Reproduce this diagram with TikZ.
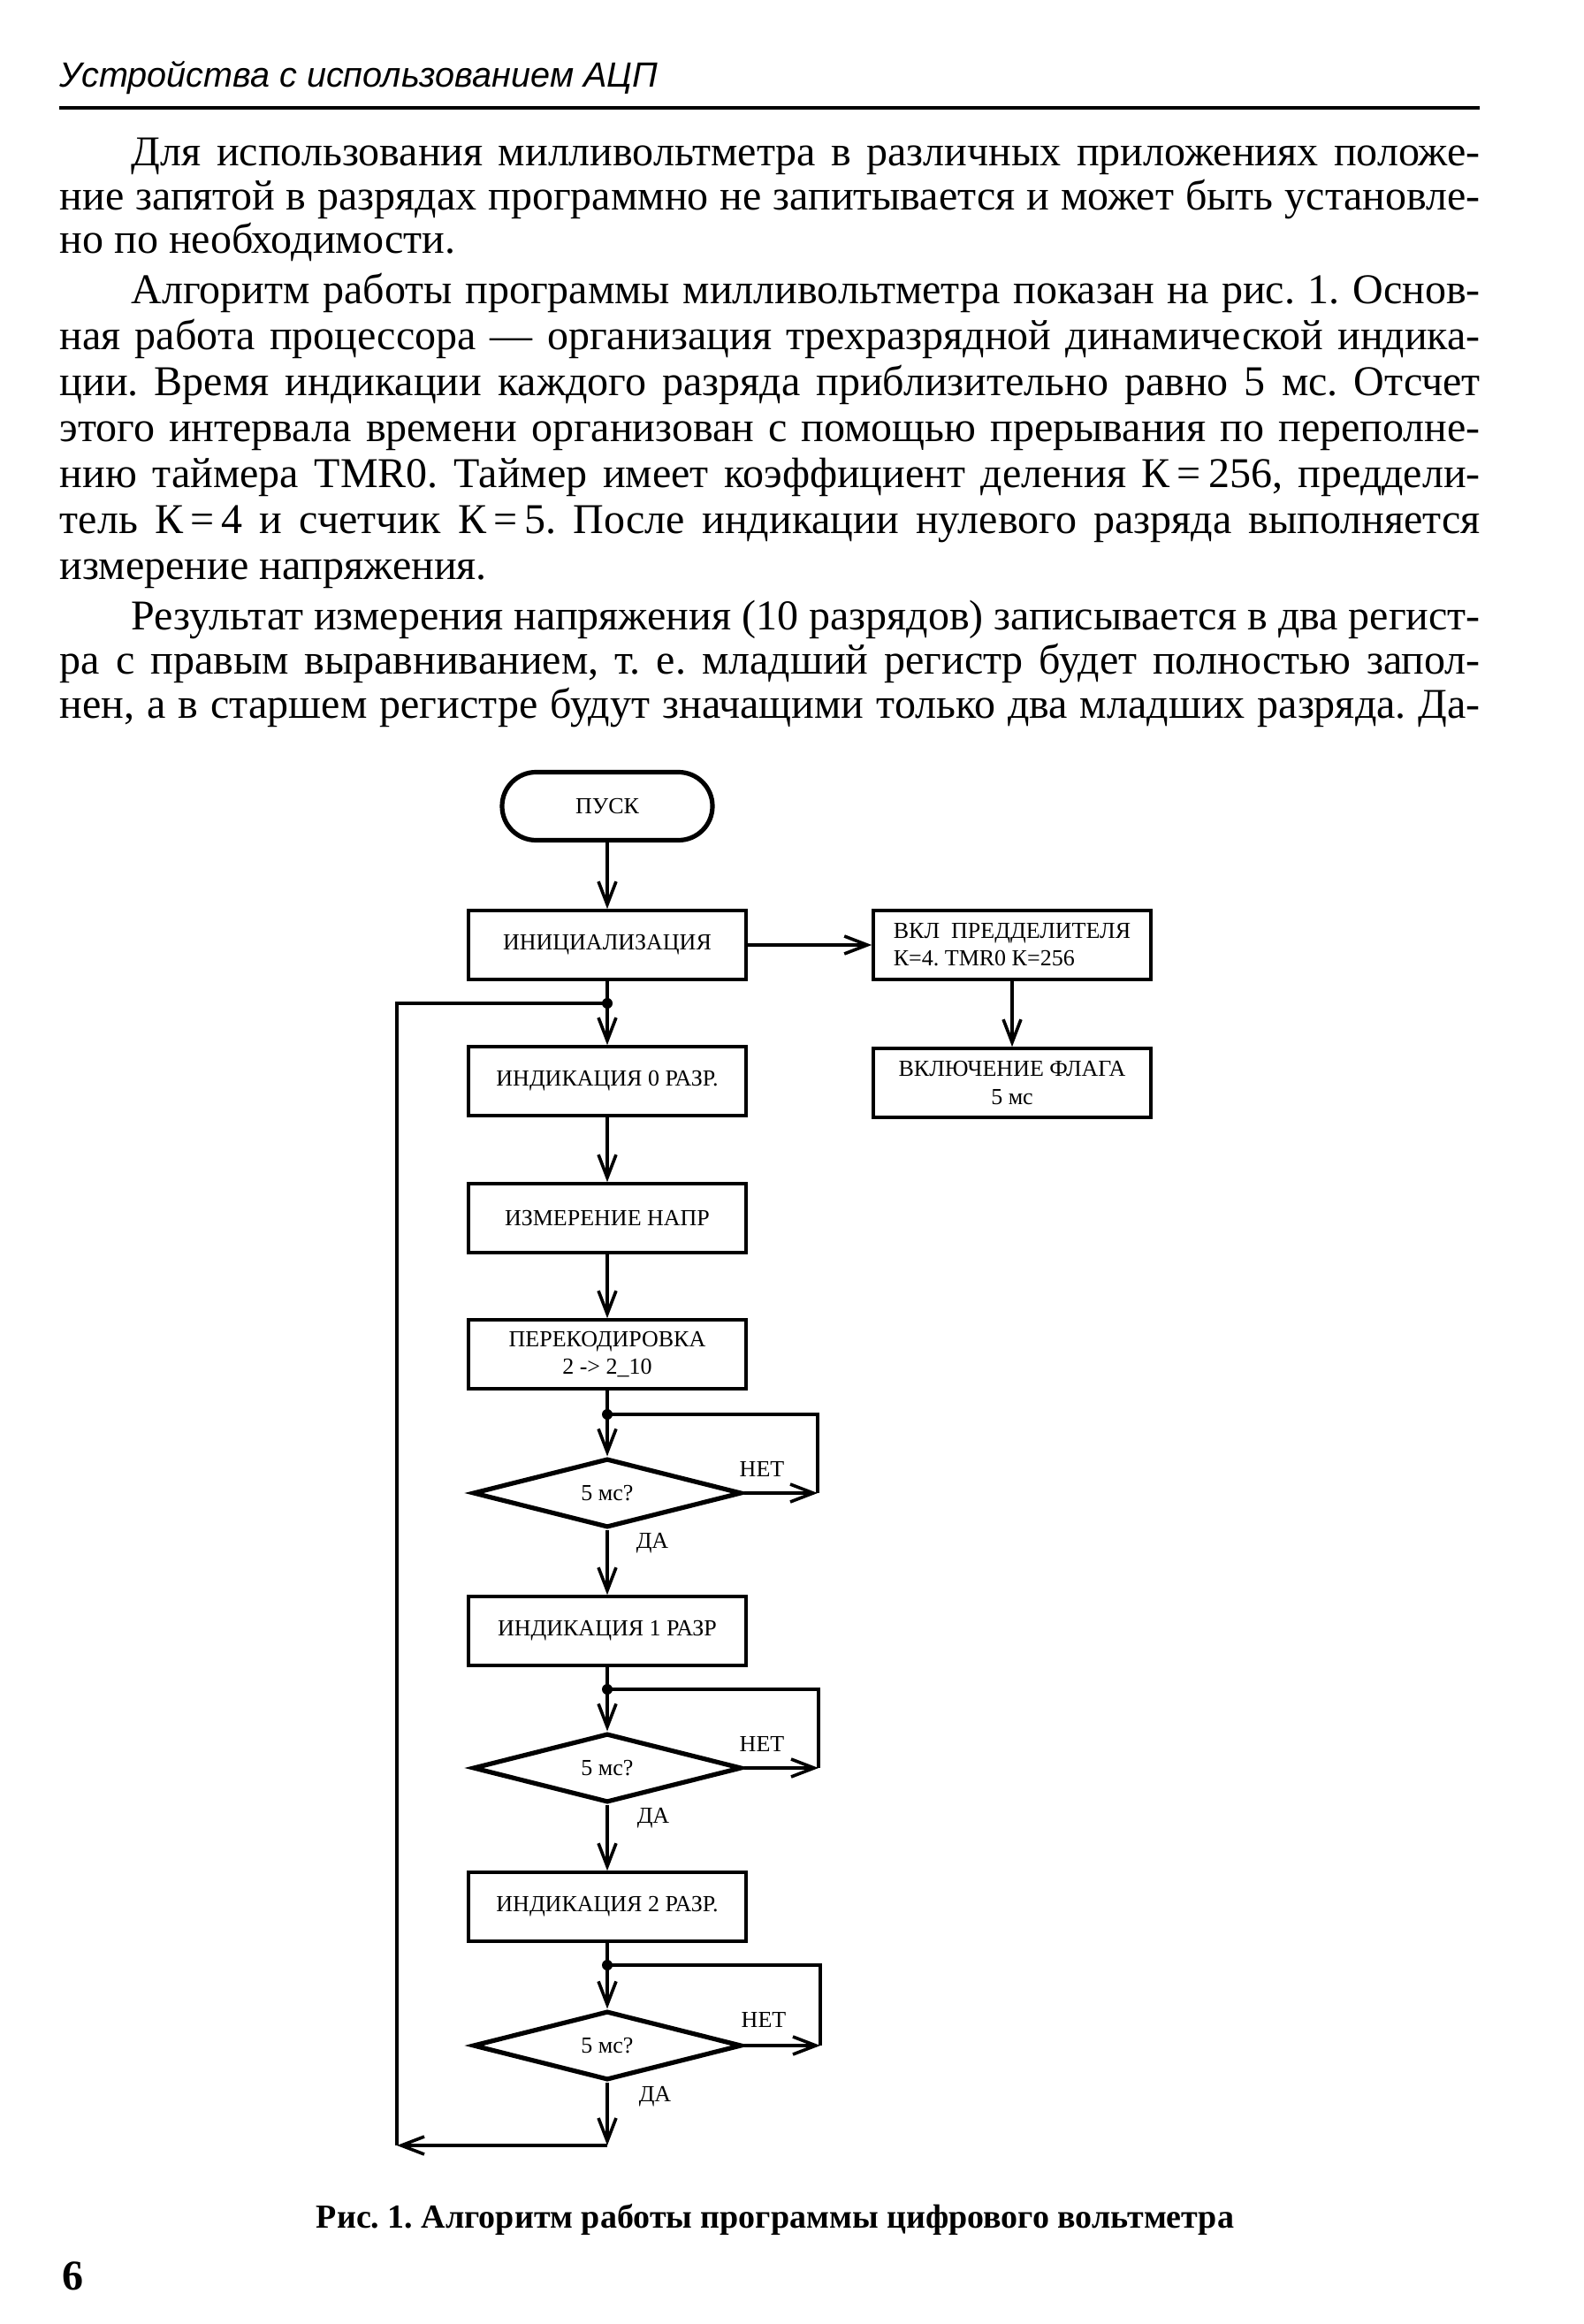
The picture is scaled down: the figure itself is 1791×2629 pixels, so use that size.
\documentclass[tikz,border=0pt]{standalone}
\usepackage{fontspec}
\setmainfont{Liberation Serif}
\newfontfamily\hdrfont{Liberation Sans}
\usetikzlibrary{arrows.meta,shapes.geometric}
\newcommand\fullline[1]{\makebox[401.75pt][s]{#1}}
\newcommand\indline[1]{\makebox[381.5pt][s]{#1}}
\frenchspacing
\begin{document}
\begin{tikzpicture}[x=0.25pt,y=-0.25pt,
  txt/.style={anchor=base west, inner sep=0pt, font=\fontsize{12}{14}\selectfont},
  fc/.style={font=\fontsize{6.5}{7.8}\selectfont},
  box/.style={fc, draw, line width=0.9pt, minimum width=78.5pt, minimum height=19.5pt, inner sep=1pt},
  dec/.style={fc, diamond, draw, line width=1.3pt, aspect=4, minimum width=76pt, minimum height=19.5pt, inner sep=0pt},
  term/.style={fc, draw, line width=1.3pt, rounded corners=9.6pt, minimum width=59.5pt, minimum height=19.25pt},
  lbl/.style={fc, inner sep=0pt},
  conn/.style={line width=0.9pt},
  arr/.style={conn, -{Straight Barb[length=6.5pt,width=5pt,line width=0.9pt]}},
  dot/.style={circle, fill, inner sep=0pt, minimum size=3pt}
]
\fill[white] (0,0) rectangle (1791,2629);
\useasboundingbox (0,0) rectangle (1791,2629);

% header
\node[anchor=base west, inner sep=0pt, font=\hdrfont\itshape\fontsize{9.9}{12}\selectfont] (hdr) at (67,99) {Устройства с использованием АЦП};
\coordinate (rl) at (67,122);
\coordinate (rr) at (1674,122);
\draw[line width=1pt] (rl) -- (rr);

% paragraph 1
\node[txt] (l1) at (148,188) {\indline{Для использования милливольтметра в различных приложениях положе-}};
\node[txt] (l2) at (67,238) {\fullline{ние запятой в разрядах программно не запитывается и может быть установле-}};
\node[txt] (l3) at (67,287) {но по необходимости.};
% paragraph 2
\node[txt] (l4) at (148,344) {\indline{Алгоритм работы программы милливольтметра показан на рис. 1. Основ-}};
\node[txt] (l5) at (67,396) {\fullline{ная работа процессора — организация трехразрядной динамической индика-}};
\node[txt] (l6) at (67,448) {\fullline{ции. Время индикации каждого разряда приблизительно равно 5 мс. Отсчет}};
\node[txt] (l7) at (67,500) {\fullline{этого интервала времени организован с помощью прерывания по переполне-}};
\node[txt] (l8) at (67,552) {\fullline{нию таймера TMR0. Таймер имеет коэффициент деления К\,=\,256, преддели-}};
\node[txt] (l9) at (67,604) {\fullline{тель К\,=\,4 и счетчик К\,=\,5. После индикации нулевого разряда выполняется}};
\node[txt] (l10) at (67,656) {измерение напряжения.};
% paragraph 3
\node[txt] (l11) at (148,713) {\indline{Результат измерения напряжения (10 разрядов) записывается в два регист-}};
\node[txt] (l12) at (67,763) {\fullline{ра с правым выравниванием, т. е. младший регистр будет полностью запол-}};
\node[txt] (l13) at (67,813) {\fullline{нен, а в старшем регистре будут значащими только два младших разряда. Да-}};

% flowchart nodes
\node[term] (start) at (687,912) {ПУСК};
\node[box] (init) at (687,1069) {ИНИЦИАЛИЗАЦИЯ};
\node[box, align=left] (vkl) at (1145,1069) {ВКЛ\ \ ПРЕДДЕЛИТЕЛЯ\\К=4. TMR0 К=256};
\node[box, align=center] (flag) at (1145,1225) {ВКЛЮЧЕНИЕ ФЛАГА\\5 мс};
\coordinate (j0) at (687,1135);
\node[box] (ind0) at (687,1223) {ИНДИКАЦИЯ 0 РАЗР.};
\node[box] (izm) at (687,1378) {ИЗМЕРЕНИЕ НАПР};
\node[box, align=center] (perek) at (687,1532) {ПЕРЕКОДИРОВКА\\2 -> 2\_10};
\coordinate (j1) at (687,1600);
\node[dec] (d1) at (687,1689) {5 мс?};
\coordinate (n1) at (925,1689);
\node[box] (ind1) at (687,1845) {ИНДИКАЦИЯ 1 РАЗР};
\coordinate (j2) at (687,1911);
\node[dec] (d2) at (687,2000) {5 мс?};
\coordinate (n2) at (926,2000);
\node[box] (ind2) at (687,2157) {ИНДИКАЦИЯ 2 РАЗР.};
\coordinate (j3) at (687,2223);
\node[dec] (d3) at (687,2314) {5 мс?};
\coordinate (n3) at (928,2314);
\coordinate (b1) at (687,2427);
\coordinate (b2) at (449,2427);

% labels
\node[lbl] (net1) at (862,1662) {НЕТ};
\node[lbl] (da1) at (738,1746) {ДА};
\node[lbl] (net2) at (862,1973) {НЕТ};
\node[lbl] (da2) at (739,2057) {ДА};
\node[lbl] (net3) at (864,2285) {НЕТ};
\node[lbl] (da3) at (741,2372) {ДА};

% connectors
\draw[arr] (start) -- (init);
\draw[arr] (init) -- (vkl);
\draw[arr] (vkl) -- (flag);
\draw[conn] (init) -- (j0);
\draw[arr] (j0) -- (ind0);
\draw[arr] (ind0) -- (izm);
\draw[arr] (izm) -- (perek);
\draw[conn] (perek) -- (j1);
\draw[arr] (j1) -- (d1);
\draw[arr] (d1.east) -- (n1);
\draw[conn] (n1) |- (j1);
\draw[arr] (d1) -- (ind1);
\draw[conn] (ind1) -- (j2);
\draw[arr] (j2) -- (d2);
\draw[arr] (d2.east) -- (n2);
\draw[conn] (n2) |- (j2);
\draw[arr] (d2) -- (ind2);
\draw[conn] (ind2) -- (j3);
\draw[arr] (j3) -- (d3);
\draw[arr] (d3.east) -- (n3);
\draw[conn] (n3) |- (j3);
\draw[arr] (d3) -- (b1);
\draw[arr] (b1) -- (b2);
\draw[conn] (b2) |- (j0);
\node[dot] (dj0) at (j0) {};
\node[dot] (dj1) at (j1) {};
\node[dot] (dj2) at (j2) {};
\node[dot] (dj3) at (j3) {};

% caption and page number
\node[anchor=base, inner sep=0pt, font=\bfseries\fontsize{9.5}{12}\selectfont] (cap) at (877,2520) {Рис. 1. Алгоритм работы программы цифрового вольтметра};
\node[anchor=base west, inner sep=0pt, font=\bfseries\fontsize{12}{14}\selectfont] (pg) at (70,2590) {6};
\end{tikzpicture}
\end{document}
